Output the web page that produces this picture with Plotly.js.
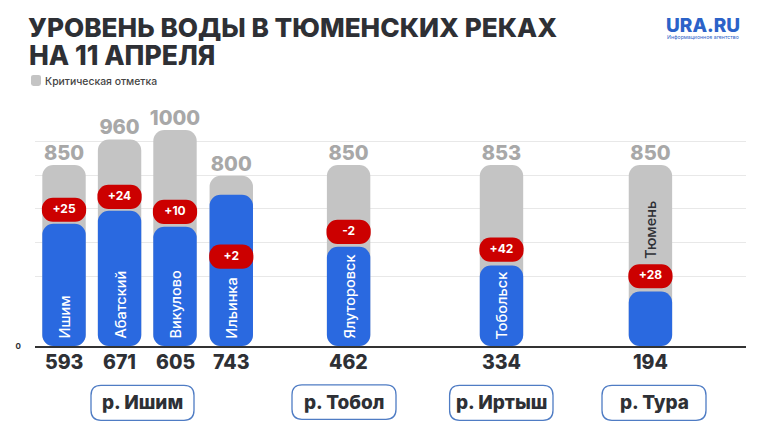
<!DOCTYPE html>
<html><head><meta charset="utf-8">
<script src="https://cdn.plot.ly/plotly-3.0.1.min.js"></script>
<style>html,body{margin:0;padding:0;background:#fff}#c{width:760px;height:440px}</style>
</head><body><div id="c"></div>
<script>
// Labelled values
const stations = ['Ишим','Абатский','Викулово','Ильинка','Ялуторовск','Тобольск','Тюмень'];
const criticalLabels = [850,960,1000,800,850,853,850];
const levelLabels = [593,671,605,743,462,334,194];
const changes = ['+25','+24','+10','+2','-2','+42','+28'];
const rivers = ['р. Ишим','р. Тобол','р. Иртыш','р. Тура'];
// Heights (the infographic is not drawn strictly to its labels)
const criticalHeights = [885,1010,1056,832,885,885,885];
const levelHeights = [598,661,583,739,485,393,266];
const changeLevels = [666,729,656,437,558,471,341];
const slots = [0.518,1.51,2.5,3.505,5.6,8.33,10.99];
const gridValues = [341,507,671,834,1000];
const nameBase = [0,0,0,0,0,0,395];

const L=35,R=746,T=121,B=346.5;
const W=760,H=440;
const px=x=>(x-L)/(R-L), py=y=>(B-y)/(B-T);
const GRAY='#c4c4c4',BLUE='#2a69e0',RED='#cc0000',DARK='#2e3035';
const FONT='Inter, "Noto Sans", sans-serif';

function rounded(lows,highs,width,color,radius){
  return {type:'bar',x:slots,base:lows,y:highs.map((v,i)=>v-lows[i]),width:width,hoverinfo:'skip',showlegend:false,
    marker:{color:color,cornerradius:radius,line:{width:0}}};
}
const zeros=stations.map(()=>0);
const PILL=59;
const traces=[
  rounded(zeros,criticalHeights,0.775,GRAY,11),
  rounded(zeros,levelHeights,0.775,BLUE,11),
  rounded(changeLevels.map(v=>v-PILL),changeLevels.map(v=>v+PILL),0.79,RED,11.5),
  {type:'scatter',mode:'text',x:slots,y:criticalHeights,text:criticalLabels.map(String),
   textposition:'top center',cliponaxis:false,hoverinfo:'skip',showlegend:false,
   textfont:{family:FONT,size:20,weight:800,color:'#a8a8a8'}},
  {type:'scatter',mode:'text',x:slots,y:changeLevels,text:changes,
   textposition:'middle center',cliponaxis:false,hoverinfo:'skip',showlegend:false,
   textfont:{family:FONT,size:12,weight:700,color:'#ffffff'}}
];

const annotations=stations.map((s,i)=>({
  text:s,x:slots[i],y:nameBase[i],xref:'x',yref:'y',textangle:-90,showarrow:false,
  xanchor:'center',yanchor:'bottom',yshift:5,
  font:{family:FONT,size:14.5,weight:500,color:i===6?DARK:'#ffffff'}
}));
levelLabels.forEach((v,i)=>annotations.push({
  text:String(v),x:slots[i],y:0,xref:'x',yref:'y',showarrow:false,
  xanchor:'center',yanchor:'middle',yshift:-15.5,
  font:{family:FONT,size:19.5,weight:800,color:DARK}
}));
const paperText=(text,x,y,size,weight,color,anchor)=>({text,x:px(x),y:py(y),xref:'paper',yref:'paper',
  showarrow:false,xanchor:anchor||'left',yanchor:'middle',font:{family:FONT,size,weight,color}});
annotations.push(paperText('НА 11 АПРЕЛЯ',27,55,26.5,800,DARK));
annotations.push(paperText('Критическая отметка',42.5,81,10.4,500,'#444444'));
annotations.push(paperText('URA.RU',664,25.5,19,800,'#2b62c8'));
annotations.push(paperText('Информационное агентство',664.5,37,5.2,400,'#2b62c8'));

const rrect=(x0,y0,x1,y1,r)=>{
  const X=v=>px(v).toFixed(5),Y=v=>py(v).toFixed(5);
  return 'M'+X(x0+r)+','+Y(y0)+' L'+X(x1-r)+','+Y(y0)+' Q'+X(x1)+','+Y(y0)+' '+X(x1)+','+Y(y0+r)+
    ' L'+X(x1)+','+Y(y1-r)+' Q'+X(x1)+','+Y(y1)+' '+X(x1-r)+','+Y(y1)+
    ' L'+X(x0+r)+','+Y(y1)+' Q'+X(x0)+','+Y(y1)+' '+X(x0)+','+Y(y1-r)+
    ' L'+X(x0)+','+Y(y0+r)+' Q'+X(x0)+','+Y(y0)+' '+X(x0+r)+','+Y(y0)+' Z';
};
const shapes=[{type:'path',xref:'paper',yref:'paper',path:rrect(31,75,41,86,2.5),fillcolor:GRAY,line:{width:0}}];
const riverBoxes=[[91,386,194,421],[292,385.5,396,420],[449.6,386,553,421],[602,386,706,421]];
rivers.forEach((r,i)=>{
  const b=riverBoxes[i];
  shapes.push({type:'path',xref:'paper',yref:'paper',path:rrect(b[0],b[1],b[2],b[3],10),
    fillcolor:'#ffffff',line:{color:'#4f7cc4',width:1.3}});
  annotations.push(paperText(r,(b[0]+b[2])/2,(b[1]+b[3])/2,19,800,DARK,'center'));
});

const layout={
  width:W,height:H,paper_bgcolor:'#fff',plot_bgcolor:'#fff',
  margin:{l:L,r:W-R,t:T,b:H-B,autoexpand:false},
  barmode:'overlay',showlegend:false,
  title:{text:'УРОВЕНЬ ВОДЫ В ТЮМЕНСКИХ РЕКАХ',x:28/W,xref:'container',xanchor:'left',
    y:1-27.5/H,yref:'container',yanchor:'middle',font:{family:FONT,size:26.2,weight:800,color:DARK}},
  xaxis:{range:[0,(R-L)/56],showgrid:false,zeroline:false,showticklabels:false,ticks:'',
    showline:true,linecolor:'#333333',linewidth:2,fixedrange:true},
  yaxis:{range:[0,(B-T)/0.205],tickmode:'array',tickvals:[0].concat(gridValues),ticktext:['0','','','','',''],
    showgrid:true,gridcolor:'#e8e8e8',gridwidth:1,zeroline:false,showline:false,ticks:'',
    ticklabelstandoff:13,tickfont:{family:FONT,size:8,weight:700,color:DARK},fixedrange:true},
  annotations,shapes
};
Plotly.newPlot('c',traces,layout,{displayModeBar:false,staticPlot:true});
</script></body></html>
